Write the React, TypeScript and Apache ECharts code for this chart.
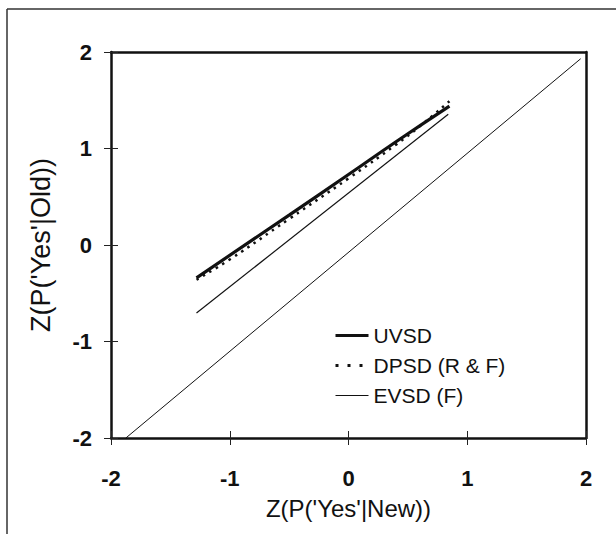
import React, { useEffect, useRef } from "react";
import * as echarts from "echarts";

const xTicks = [-2, -1, 0, 1, 2];
const yTicks = [-2, -1, 0, 1, 2];

const chanceLine: [number, number][] = [
  [-1.875, -2],
  [1.955, 1.93],
];
const uvsd: [number, number][] = [
  [-1.28, -0.34],
  [-0.5, 0.31],
  [0, 0.73],
  [0.4, 1.07],
  [0.85, 1.44],
];
const dpsd: [number, number][] = [
  [-1.28, -0.36],
  [-1.0, -0.15],
  [-0.5, 0.27],
  [0, 0.69],
  [0.4, 1.04],
  [0.6, 1.23],
  [0.85, 1.49],
];
const evsd: [number, number][] = [
  [-1.28, -0.705],
  [0.84, 1.355],
];

const FONT = "'Liberation Sans', Arial, sans-serif";
const INK = "#111";

export default function App() {
  const ref = useRef<HTMLDivElement>(null);
  useEffect(() => {
    if (!ref.current) return;
    const chart = echarts.init(ref.current, undefined, { renderer: "svg" });
    const tickColor = "#222";
    chart.setOption({
      animation: false,
      backgroundColor: "#fff",
      color: [INK, INK, INK, INK],
      textStyle: { fontFamily: FONT },
      grid: { left: 111, right: 30, top: 52, bottom: 96, containLabel: false },
      legend: {
        orient: "vertical",
        left: 329,
        top: 320,
        itemWidth: 33,
        itemHeight: 14,
        itemGap: 9,
        itemStyle: { opacity: 0 },
        data: [
          { name: "UVSD", lineStyle: { width: 3, color: INK } },
          { name: "DPSD (R & F)", lineStyle: { width: 3, color: INK, type: [3, 9] } },
          { name: "EVSD (F)", lineStyle: { width: 1, color: INK } },
        ],
        textStyle: { fontSize: 21, color: INK, fontFamily: FONT },
      },
      xAxis: [
        {
          type: "value",
          min: -2,
          max: 2,
          interval: 1,
          position: "bottom",
          name: "Z(P('Yes'|New))",
          nameLocation: "middle",
          nameGap: 58,
          nameTextStyle: { fontSize: 24, color: INK, fontFamily: FONT },
          axisLine: { show: true, onZero: false, lineStyle: { color: INK, width: 2.5 } },
          axisTick: { show: true, inside: false, length: 7, lineStyle: { color: tickColor, width: 1 } },
          axisLabel: {
            fontSize: 22,
            fontWeight: "bold",
            color: INK,
            margin: 29,
            fontFamily: FONT,
            formatter: (v: number) => (xTicks.includes(v) ? String(v) : ""),
          },
          splitLine: { show: false },
        },
        {
          type: "value",
          min: -2,
          max: 2,
          interval: 1,
          position: "bottom",
          axisLine: { show: false, onZero: false },
          axisTick: { show: true, inside: true, length: 7, lineStyle: { color: tickColor, width: 1 } },
          axisLabel: { show: false },
          splitLine: { show: false },
        },
        {
          type: "value",
          min: -2,
          max: 2,
          position: "top",
          axisLine: { show: true, onZero: false, lineStyle: { color: INK, width: 2.5 } },
          axisTick: { show: false },
          axisLabel: { show: false },
          splitLine: { show: false },
        },
      ],
      yAxis: [
        {
          type: "value",
          min: -2,
          max: 2,
          interval: 1,
          position: "left",
          name: "Z(P('Yes'|Old))",
          nameLocation: "middle",
          nameGap: 57,
          nameTextStyle: { fontSize: 27, color: INK, fontFamily: FONT },
          axisLine: { show: true, onZero: false, lineStyle: { color: INK, width: 2.5 } },
          axisTick: { show: true, inside: false, length: 7, lineStyle: { color: tickColor, width: 1 } },
          axisLabel: {
            fontSize: 22,
            fontWeight: "bold",
            color: INK,
            margin: 19,
            fontFamily: FONT,
            formatter: (v: number) => (yTicks.includes(v) ? String(v) : ""),
          },
          splitLine: { show: false },
        },
        {
          type: "value",
          min: -2,
          max: 2,
          interval: 1,
          position: "left",
          axisLine: { show: false, onZero: false },
          axisTick: { show: true, inside: true, length: 7, lineStyle: { color: tickColor, width: 1 } },
          axisLabel: { show: false },
          splitLine: { show: false },
        },
        {
          type: "value",
          min: -2,
          max: 2,
          position: "right",
          axisLine: { show: true, onZero: false, lineStyle: { color: INK, width: 2.5 } },
          axisTick: { show: false },
          axisLabel: { show: false },
          splitLine: { show: false },
        },
      ],
      series: [
        {
          name: "chance",
          type: "line",
          data: chanceLine,
          symbol: "none",
          itemStyle: { color: INK },
          lineStyle: { color: INK, width: 1 },
          silent: true,
        },
        {
          name: "EVSD (F)",
          type: "line",
          data: evsd,
          symbol: "none",
          itemStyle: { color: INK },
          lineStyle: { color: INK, width: 1.2 },
        },
        {
          name: "UVSD",
          type: "line",
          data: uvsd,
          symbol: "none",
          smooth: true,
          itemStyle: { color: INK },
          lineStyle: { color: INK, width: 3.2 },
        },
        {
          name: "DPSD (R & F)",
          type: "line",
          data: dpsd,
          symbol: "none",
          smooth: true,
          itemStyle: { color: INK },
          lineStyle: { color: INK, width: 2.5, type: [2.5, 5] },
        },
      ],
      graphic: [
        {
          type: "line",
          shape: { x1: 7, y1: 9, x2: 616, y2: 9 },
          style: { stroke: "#333", lineWidth: 1.5 },
        },
        {
          type: "line",
          shape: { x1: 7, y1: 9, x2: 7, y2: 534 },
          style: { stroke: "#333", lineWidth: 1.5 },
        },
      ],
    });
    return () => chart.dispose();
  }, []);
  return (
    <div
      ref={ref}
      style={{ position: "absolute", left: 0, top: 0, width: 616, height: 534 }}
    />
  );
}
